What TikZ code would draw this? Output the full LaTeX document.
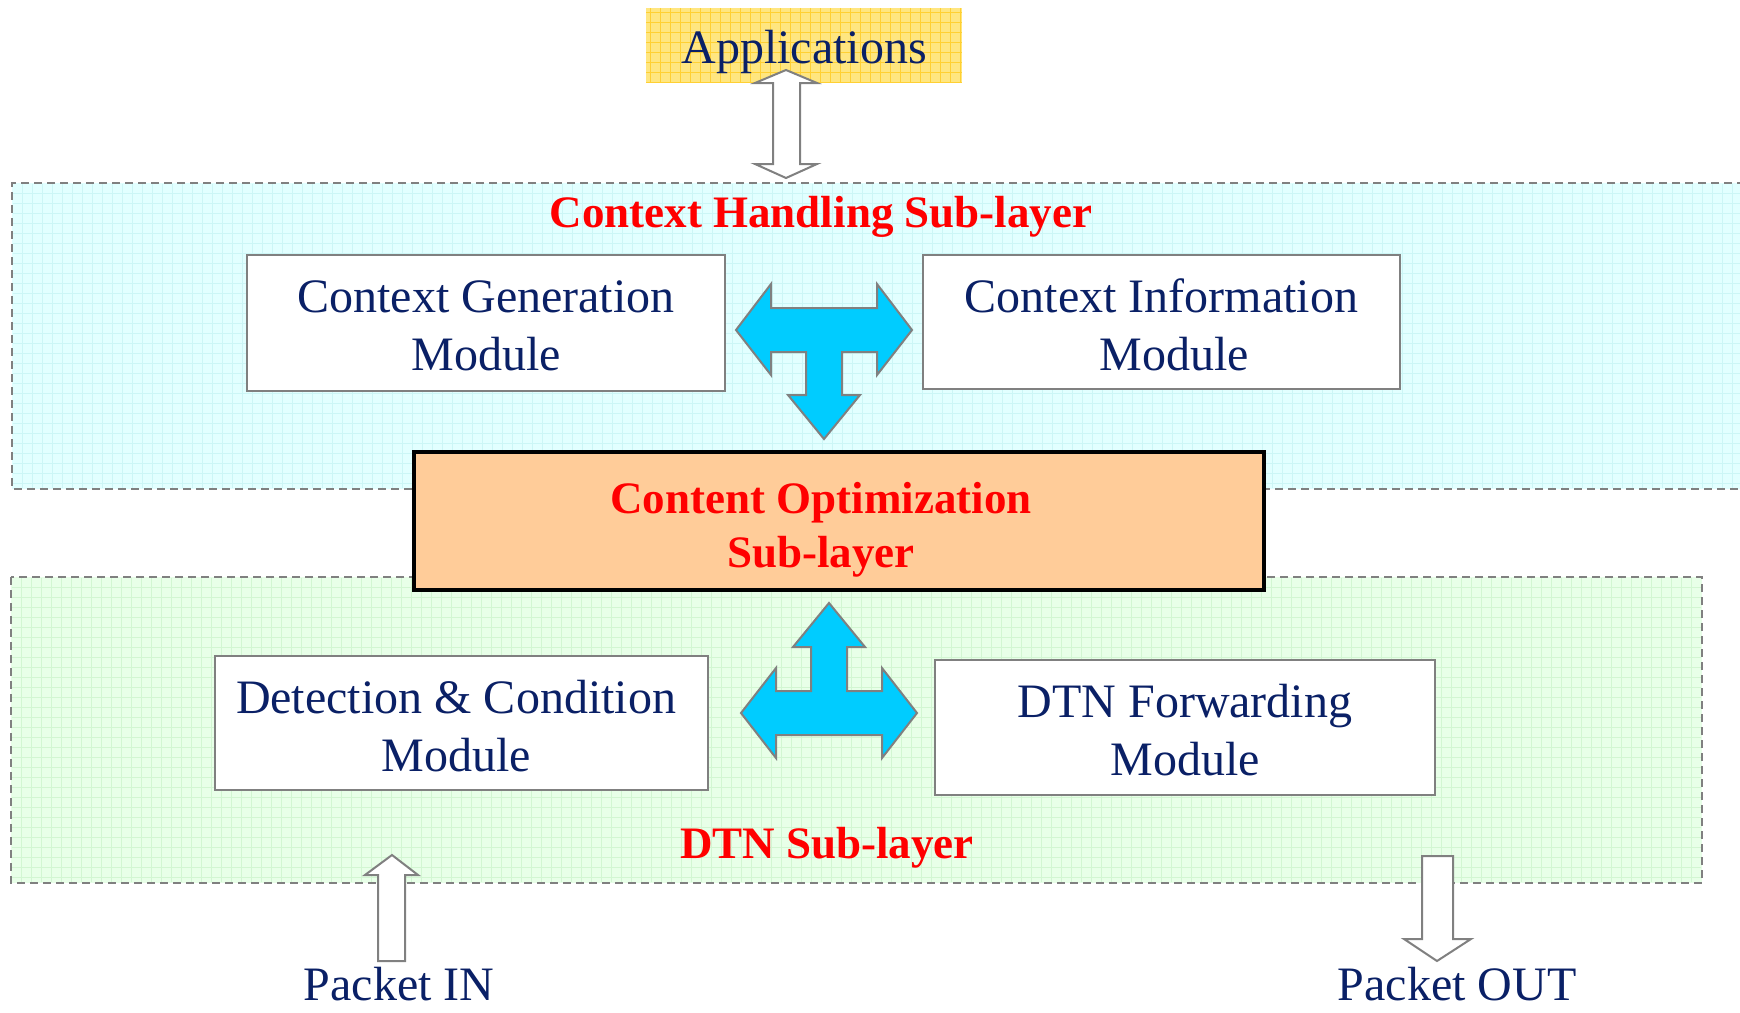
\documentclass[tikz,border=0pt]{standalone}
\usepackage{fontspec}
\setmainfont{Liberation Serif}
\definecolor{navy}{HTML}{0A2066}
\definecolor{titlered}{HTML}{FF0000}
\definecolor{edgegray}{HTML}{808080}
\definecolor{arrowcyan}{HTML}{00CCFF}
\definecolor{peach}{HTML}{FFCC99}
\definecolor{cyanbg}{HTML}{E2FFFF}
\definecolor{cyangrid}{HTML}{CCF6F6}
\definecolor{greenbg}{HTML}{E8FFE8}
\definecolor{greengrid}{HTML}{D2F6D2}
\definecolor{appyellow}{HTML}{FFE680}
\definecolor{appgrid}{HTML}{FFD033}
\tikzset{
  navytext/.style={text=navy, font=\fontsize{48}{58}\selectfont, align=center, inner sep=0pt},
  redtitle/.style={text=titlered, font=\bfseries\fontsize{45}{54}\selectfont, align=center, inner sep=0pt},
  modbox/.style={draw=edgegray, line width=2pt, fill=white, inner sep=0pt},
  optbox/.style={draw=black, line width=4pt, fill=peach, inner sep=0pt},
  dashframe/.style={draw=edgegray, line width=2pt, dash pattern=on 8pt off 5pt},
  tarrow/.style={draw=edgegray, line width=2pt, fill=arrowcyan, line join=miter},
  hollowarrow/.style={draw=edgegray, line width=2pt, fill=white, line join=miter},
}
\begin{document}
\begin{tikzpicture}[x=1pt, y=-1pt]
\useasboundingbox (0,0) rectangle (1740,1012);

% context handling sub-layer background
\fill[cyanbg] (12,183) rectangle (1745,489);
\foreach \gx in {22,32,...,1740} \draw[cyangrid, line width=0.7pt] (\gx,184) -- (\gx,488);
\foreach \gy in {193,203,...,488} \draw[cyangrid, line width=0.7pt] (13,\gy) -- (1745,\gy);
\draw[dashframe] (1745,183) -- (12,183) -- (12,489) -- (1745,489);

% DTN sub-layer background
\fill[greenbg] (11,577) rectangle (1702,883);
\foreach \gx in {21,31,...,1700} \draw[greengrid, line width=0.7pt] (\gx,578) -- (\gx,882);
\foreach \gy in {587,597,...,882} \draw[greengrid, line width=0.7pt] (12,\gy) -- (1701,\gy);
\draw[dashframe] (11,577) rectangle (1702,883);

% applications box
\node[fill=appyellow, minimum width=316pt, minimum height=75pt, inner sep=0pt] (apps) at (804,45.5) {};
\begin{scope}
  \clip (apps.south west) rectangle (apps.north east);
  \foreach \gx in {650,660,...,962} \draw[appgrid, line width=0.8pt] (\gx,8) -- (\gx,83);
  \foreach \gy in {12,22,...,83} \draw[appgrid, line width=0.8pt] (646,\gy) -- (962,\gy);
\end{scope}
\node[navytext, anchor=base] (appstext) at (804,63) {Applications};

% double arrow between applications and context handling
\draw[hollowarrow] (786,70) -- (817,83) -- (800,83) -- (800,164) -- (817,164) -- (786,178)
  -- (755,164) -- (773,164) -- (773,83) -- (755,83) -- cycle;

% titles
\node[redtitle, anchor=base] (chstitle) at (821,227) {Context Handling Sub-layer};
\node[redtitle, anchor=base] (dtntitle) at (827,858) {DTN Sub-layer};

% modules of the context handling sub-layer
\node[modbox, minimum width=478pt, minimum height=136pt] (cgm) at (486,323) {};
\node[navytext] (cgmtext) at (486,326) {Context Generation\\Module};
\node[modbox, minimum width=477pt, minimum height=134pt] (cim) at (1161.5,322) {};
\node[navytext] (cimtext) at (1161.5,325) {Context Information\\\hspace*{26pt}Module};

% three-way arrow pointing left, right and down
\draw[tarrow, shift={(824,330)}]
  (-88,0) -- (-53,-46) -- (-53,-22) -- (53,-22) -- (53,-46) -- (88,0) -- (53,45) -- (53,22)
  -- (18,22) -- (18,65) -- (36,65) -- (0,109) -- (-36,65) -- (-18,65) -- (-18,22)
  -- (-53,22) -- (-53,45) -- cycle;

% content optimization sub-layer
\node[optbox, minimum width=850pt, minimum height=138pt] (opt) at (839,521) {};
\node[redtitle] (opttext) at (821,530) {Content Optimization\\Sub-layer};

% three-way arrow pointing up, left and right
\draw[tarrow, shift={(829,713)}]
  (-88,0) -- (-53,-45) -- (-53,-22) -- (-18,-22) -- (-18,-66) -- (-36,-66) -- (0,-110)
  -- (36,-66) -- (18,-66) -- (18,-22) -- (53,-22) -- (53,-45) -- (88,0) -- (53,45)
  -- (53,22) -- (-53,22) -- (-53,45) -- cycle;

% modules of the DTN sub-layer
\node[modbox, minimum width=493pt, minimum height=134pt] (dcm) at (461.5,723) {};
\node[navytext] (dcmtext) at (456,726) {Detection \& Condition\\Module};
\node[modbox, minimum width=500pt, minimum height=135pt] (dfm) at (1185,727.5) {};
\node[navytext] (dfmtext) at (1185,730) {DTN Forwarding\\Module};

% packet in / out
\draw[hollowarrow] (392,855) -- (418,875) -- (405,875) -- (405,961) -- (378,961) -- (378,875) -- (365,875) -- cycle;
\draw[hollowarrow] (1422,856) -- (1453,856) -- (1453,939) -- (1471,939) -- (1437,961) -- (1404,939) -- (1422,939) -- cycle;
\node[navytext, anchor=base] (pin) at (399,1000) {Packet IN};
\node[navytext, anchor=base] (pout) at (1457,1000) {Packet OUT};
\end{tikzpicture}
\end{document}
